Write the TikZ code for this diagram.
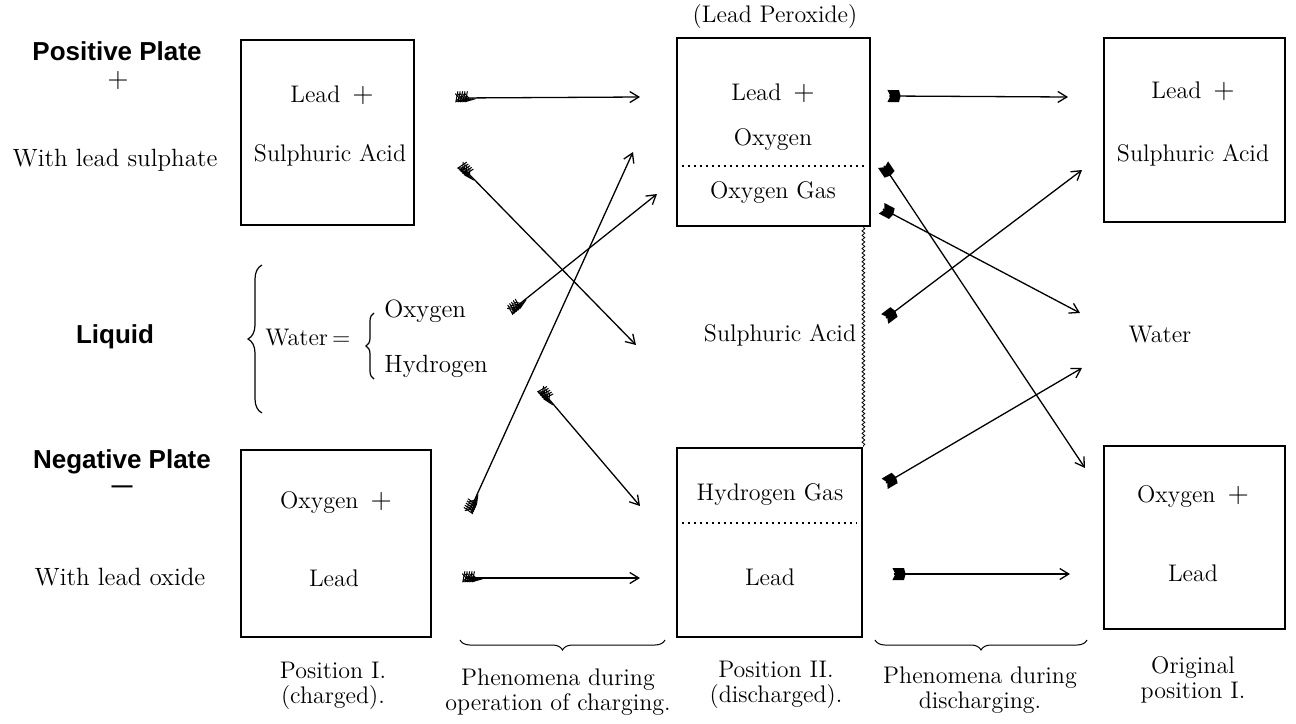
\documentclass[tikz,border=0pt]{standalone}
\usepackage{fontspec}
\newfontfamily\headfont{Liberation Sans}
\usetikzlibrary{arrows.meta,decorations.markings,decorations.pathreplacing,decorations.pathmorphing}
\newcommand\myfletch{\draw[line width=0.5pt] (0,0) -- (-2pt,2.2pt) (0,0) -- (-2pt,-2.2pt);}
\begin{document}
\begin{tikzpicture}[x=0.5pt,y=-0.5pt,
  plate/.style={draw, line width=1.4pt, inner sep=0pt},
  txt/.style={font=\fontsize{12}{14}\selectfont, inner sep=0.5pt},
  lab/.style={font=\fontsize{12}{12.5}\selectfont, align=center, inner sep=0.5pt},
  side/.style={font=\fontsize{12.5}{14}\selectfont, inner sep=0.5pt},
  head/.style={font=\headfont\bfseries\fontsize{13}{15}\selectfont, inner sep=0.5pt},
  charge/.style={line width=0.65pt, -{Straight Barb[length=4.5pt,width=5.5pt]},
    postaction={decorate, decoration={markings,
      mark=at position 0.6pt with {\myfletch},
      mark=at position 1.8pt with {\myfletch},
      mark=at position 3pt with {\myfletch},
      mark=at position 4.2pt with {\myfletch},
      mark=at position 5.4pt with {\myfletch}}}},
  discharge/.style={line width=0.65pt, -{Straight Barb[length=4.5pt,width=5.5pt]},
    postaction={decorate, decoration={markings,
      mark=at position 2pt with {\fill (-2.8pt,-3pt) -- (3pt,-3pt) -- (3.8pt,0pt) -- (3pt,3pt) -- (-2.8pt,3pt) -- (-1.3pt,0pt) -- cycle;}}}},
  bracedown/.style={decorate, decoration={brace, amplitude=5pt}, line width=0.5pt},
  braceleft/.style={decorate, decoration={brace, amplitude=#1}, line width=0.6pt}
]
\useasboundingbox (0,0) rectangle (1296,723);

% boxes
\node[plate, minimum width=86.5pt, minimum height=92.5pt] (b1) at (327.5,132.5) {};
\node[plate, minimum width=95pt, minimum height=93.5pt] (b2) at (336,543.5) {};
\node[plate, minimum width=96.5pt, minimum height=94pt] (b3) at (773.5,132) {};
\node[plate, minimum width=92.5pt, minimum height=94.5pt] (b4) at (769.5,542.5) {};
\node[plate, minimum width=90.5pt, minimum height=92pt] (b5) at (1194.5,130) {};
\node[plate, minimum width=90.5pt, minimum height=91.5pt] (b6) at (1194.5,537.5) {};

% dotted separators
\draw[dotted, line width=1pt] ([xshift=3pt]b3.west |- 0,166) -- ([xshift=-3pt]b3.east |- 0,166);
\draw[dotted, line width=1pt] ([xshift=3pt]b4.west |- 0,523) -- ([xshift=-3pt]b4.east |- 0,523);

% wavy line
\coordinate (wtop) at (b4.north east |- b3.south);
\draw[line width=0.4pt, decorate, decoration={snake, amplitude=0.7pt, segment length=2.2pt}] (wtop) -- (b4.north east);

% box texts
\node[txt] (peroxide) at (775,17) {(Lead Peroxide)};
\node[txt] (t1a) at (332,95) {Lead\hspace{6pt}{\fontsize{14}{14}\selectfont +}};
\node[txt] (t1b) at (330,155) {Sulphuric Acid};
\node[txt] (t3a) at (773,93) {Lead\hspace{6pt}{\fontsize{14}{14}\selectfont +}};
\node[txt] (t3b) at (773,140) {Oxygen};
\node[txt] (t3c) at (773,193) {Oxygen Gas};
\node[txt] (t5a) at (1193,91) {Lead\hspace{6pt}{\fontsize{14}{14}\selectfont +}};
\node[txt] (t5b) at (1193,155) {Sulphuric Acid};
\node[txt] (t2a) at (336,503) {Oxygen\hspace{6pt}{\fontsize{14}{14}\selectfont +}};
\node[txt] (t2b) at (334,578) {Lead};
\node[txt] (t4a) at (770,495) {Hydrogen Gas};
\node[txt] (t4b) at (770,577) {Lead};
\node[txt] (t6a) at (1193,497) {Oxygen\hspace{6pt}{\fontsize{14}{14}\selectfont +}};
\node[txt] (t6b) at (1193,573) {Lead};
\node[txt] (midacid) at (780,335) {Sulphuric Acid};
\node[txt] (water) at (1160,335) {Water};

% left side
\node[head] (pos) at (117,51) {Positive Plate};
\node[side] (plus) at (118,81) {{\fontsize{14}{14}\selectfont +}};
\node[side] (wls) at (115,160) {With lead sulphate};
\node[head] (liq) at (115,337) {Liquid};
\node[head] (neg) at (122,462) {Negative Plate};
\node[side] (minus) at (122,489) {\headfont\bfseries\fontsize{10.5}{12}\selectfont —};
\node[side] (wlo) at (120,577) {With lead oxide};

% water
\draw[braceleft=7pt] (262,413) -- (262,265);
\node[txt, anchor=west] (weq) at (264,338) {Water\,=};
\draw[braceleft=4pt] (374,379) -- (374,313);
\node[side, anchor=west] (oxy) at (383,311) {Oxygen};
\node[side, anchor=west] (hyd) at (383,366) {Hydrogen};

% bottom braces and labels
\coordinate (cbl) at (460,640); \coordinate (cbr) at (665,640);
\draw[bracedown] (cbr) -- (cbl);
\coordinate (dbl) at (875,640); \coordinate (dbr) at (1087,640);
\draw[bracedown] (dbr) -- (dbl);
\node[lab] (l1) at (333,686) {Position I.\\(charged).};
\node[lab] (l2) at (558,692) {Phenomena during\\operation of charging.};
\node[lab] (l3) at (776,685) {Position II.\\(discharged).};
\node[lab] (l4) at (980,690) {Phenomena during\\discharging.};
\node[lab] (l5) at (1193,680) {Original\\position I.};

% charging arrows
\coordinate (a1s) at (458,98);  \coordinate (a1e) at (640,97);
\coordinate (a2s) at (462,167); \coordinate (a2e) at (636,345);
\coordinate (a3s) at (512,310); \coordinate (a3e) at (657,194);
\coordinate (a4s) at (470,510); \coordinate (a4e) at (633,152);
\coordinate (a5s) at (542,391); \coordinate (a5e) at (640,506);
\coordinate (a6s) at (465,578); \coordinate (a6e) at (640,578);
\draw[charge] (a1s) -- (a1e);
\draw[charge] (a2s) -- (a2e);
\draw[charge] (a3s) -- (a3e);
\draw[charge] (a4s) -- (a4e);
\draw[charge] (a5s) -- (a5e);
\draw[charge] (a6s) -- (a6e);

% discharging arrows
\coordinate (d1s) at (889,96);  \coordinate (d1e) at (1068,97);
\coordinate (d2s) at (884,166); \coordinate (d2e) at (1085,468);
\coordinate (d3s) at (883,209); \coordinate (d3e) at (1080,313);
\coordinate (d4s) at (886,318); \coordinate (d4e) at (1082,170);
\coordinate (d5s) at (886,483); \coordinate (d5e) at (1082,368);
\coordinate (d6s) at (894,574); \coordinate (d6e) at (1070,574);
\draw[discharge] (d1s) -- (d1e);
\draw[discharge] (d2s) -- (d2e);
\draw[discharge] (d3s) -- (d3e);
\draw[discharge] (d4s) -- (d4e);
\draw[discharge] (d5s) -- (d5e);
\draw[discharge] (d6s) -- (d6e);
\end{tikzpicture}
\end{document}
